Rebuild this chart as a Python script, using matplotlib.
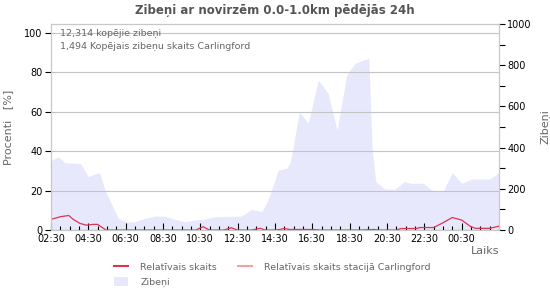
import matplotlib
matplotlib.use("Agg")
import matplotlib.pyplot as plt
from matplotlib.patches import Patch
from matplotlib.lines import Line2D
import numpy as np

# === Data (hours since 02:30) ===
area_hours = [0, 0.21, 0.39, 0.75, 1.46, 1.61, 2.0, 2.5, 2.62, 2.89, 3.6, 4.05, 4.5, 5.03,
              5.57, 6.0, 6.46, 7.18, 7.71, 8.25, 8.78, 10.2, 10.75, 11.29, 11.55, 11.82,
              12.17, 12.62, 12.8, 12.95, 13.3, 13.78, 14.32, 14.85, 15.33, 15.84, 16.28,
              16.87, 17.03, 17.2, 17.4, 17.89, 18.43, 18.92, 19.32, 19.94, 20.39, 21.01,
              21.5, 22.0, 22.53, 23.51, 24.0]
lightning = [336, 348, 356, 327, 324, 320, 259, 278, 275, 194, 57, 40, 40, 57,
             68, 68, 57, 40, 49, 53, 65, 68, 100, 89, 130, 194,
             291, 300, 324, 388, 574, 518, 728, 663, 485, 752, 809,
             829, 835, 400, 235, 199, 199, 235, 227, 227, 194, 189,
             280, 227, 248, 248, 280]

rel_hours = [0, 0.5, 0.95, 1.2, 1.55, 1.9, 2.25, 2.5, 2.95, 7.75, 8.15, 8.5, 9.25, 9.65,
             10.0, 10.75, 11.2, 11.5, 12.0, 12.25, 12.5, 12.8, 14.0, 14.5, 16.5, 17.3,
             17.6, 18.5, 18.75, 19.6, 19.75, 20.5, 21.0, 21.5, 22.0, 22.5, 22.75, 23.5, 24.0]
rel_count = [5.4, 6.8, 7.4, 5.4, 3.4, 2.5, 2.9, 2.9, 0, 0, 1.7, 0, 0, 1.2,
             0, 0, 0.9, 0, 0, 0.3, 0.8, 0.3, 0.3, 0, 0, 0.3,
             0, 0, 0.8, 0.8, 1.3, 1.3, 3.7, 6.4, 5.1, 1.7, 0.9, 0.9, 2.0]
rel_carlingford = [0] * len(rel_hours)

tick_labels = ["02:30", "04:30", "06:30", "08:30", "10:30", "12:30", "14:30",
               "16:30", "18:30", "20:30", "22:30", "00:30"]

total_text = "12,314 kopējie zibeņi"
station_text = "1,494 Kopējais zibeņu skaits Carlingford"

# === Colours ===
gray = "#666666"
area_col = "#e8e8fc"
red = "#dd3355"
pink = "#f4a0a0"

fig = plt.figure(figsize=(5.5, 3.0), dpi=100)
ax = fig.add_axes([0.0927, 0.233, 0.8145, 0.687])
ax2 = ax.twinx()

# area on right axis, lines on left axis (left axis drawn on top)
ax.set_zorder(ax2.get_zorder() + 1)
ax.patch.set_visible(False)

ax2.fill_between(area_hours, lightning, 0, color=area_col, lw=0)
ax2.set_ylim(0, 1000)
ax2.set_yticks(range(0, 1001, 200))
ax2.set_yticks(range(100, 1000, 200), minor=True)
ax2.tick_params(axis="y", which="both", direction="out", length=4, width=0.8,
                labelsize=7, colors="black", pad=2)
ax2.set_ylabel("Zibeņi", color=gray, fontsize=8, labelpad=6)

ax.set_ylim(0, 104.6)
ax.set_xlim(0, 24)
ax.set_yticks(range(0, 101, 20))
for v in range(20, 101, 20):
    ax.axhline(v, color="#c4c4c4", lw=0.8, zorder=0)

ax.plot(rel_hours, rel_carlingford, color=pink, lw=0.9, zorder=1)
ax.plot(rel_hours, rel_count, color=red, lw=0.9, zorder=3)

ax.set_xticks(np.arange(0, 24, 2))
ax.set_xticklabels(tick_labels)
ax.set_xticks(np.arange(0, 24.01, 0.5), minor=True)
ax.tick_params(axis="x", which="major", direction="in", length=5, width=0.8,
               labelsize=7, pad=3)
ax.tick_params(axis="x", which="minor", direction="in", length=3, width=0.8)
ax.tick_params(axis="y", direction="out", length=4, width=0.8, labelsize=7, pad=2)

for a in (ax, ax2):
    for s in a.spines.values():
        s.set_color("#c8c8c8")
        s.set_linewidth(0.8)
        s.set_zorder(4)

ax.set_ylabel("Procenti   [%]", color=gray, fontsize=8, labelpad=8)
ax.set_xlabel("Laiks", color=gray, fontsize=8, loc="right", labelpad=1)

ax.set_title("Zibeņi ar novirzēm 0.0-1.0km pēdējās 24h", color="#555555",
             fontsize=8.5, fontweight="bold", pad=7)

ax.text(0.02, 0.975, total_text, transform=ax.transAxes, fontsize=6.8, color=gray, va="top")
ax.text(0.02, 0.915, station_text, transform=ax.transAxes, fontsize=6.8, color=gray, va="top")

# legend: column 1 = red line, area; column 2 = pink line
handles = [Line2D([], [], color=red, lw=1.5),
           Patch(facecolor=area_col, edgecolor="none"),
           Line2D([], [], color=pink, lw=1.5)]
labels = ["Relatīvais skaits", "Zibeņi", "Relatīvais skaits stacijā Carlingford"]
fig.legend(handles, labels, loc="upper left", bbox_to_anchor=(0.2, 0.14), ncol=2,
           frameon=False, fontsize=6.8, labelcolor=gray, handlelength=1.5,
           handleheight=1.2, columnspacing=2.2, handletextpad=1.3, borderaxespad=0,
           labelspacing=0.5)

fig.savefig("out.png", dpi=100)
